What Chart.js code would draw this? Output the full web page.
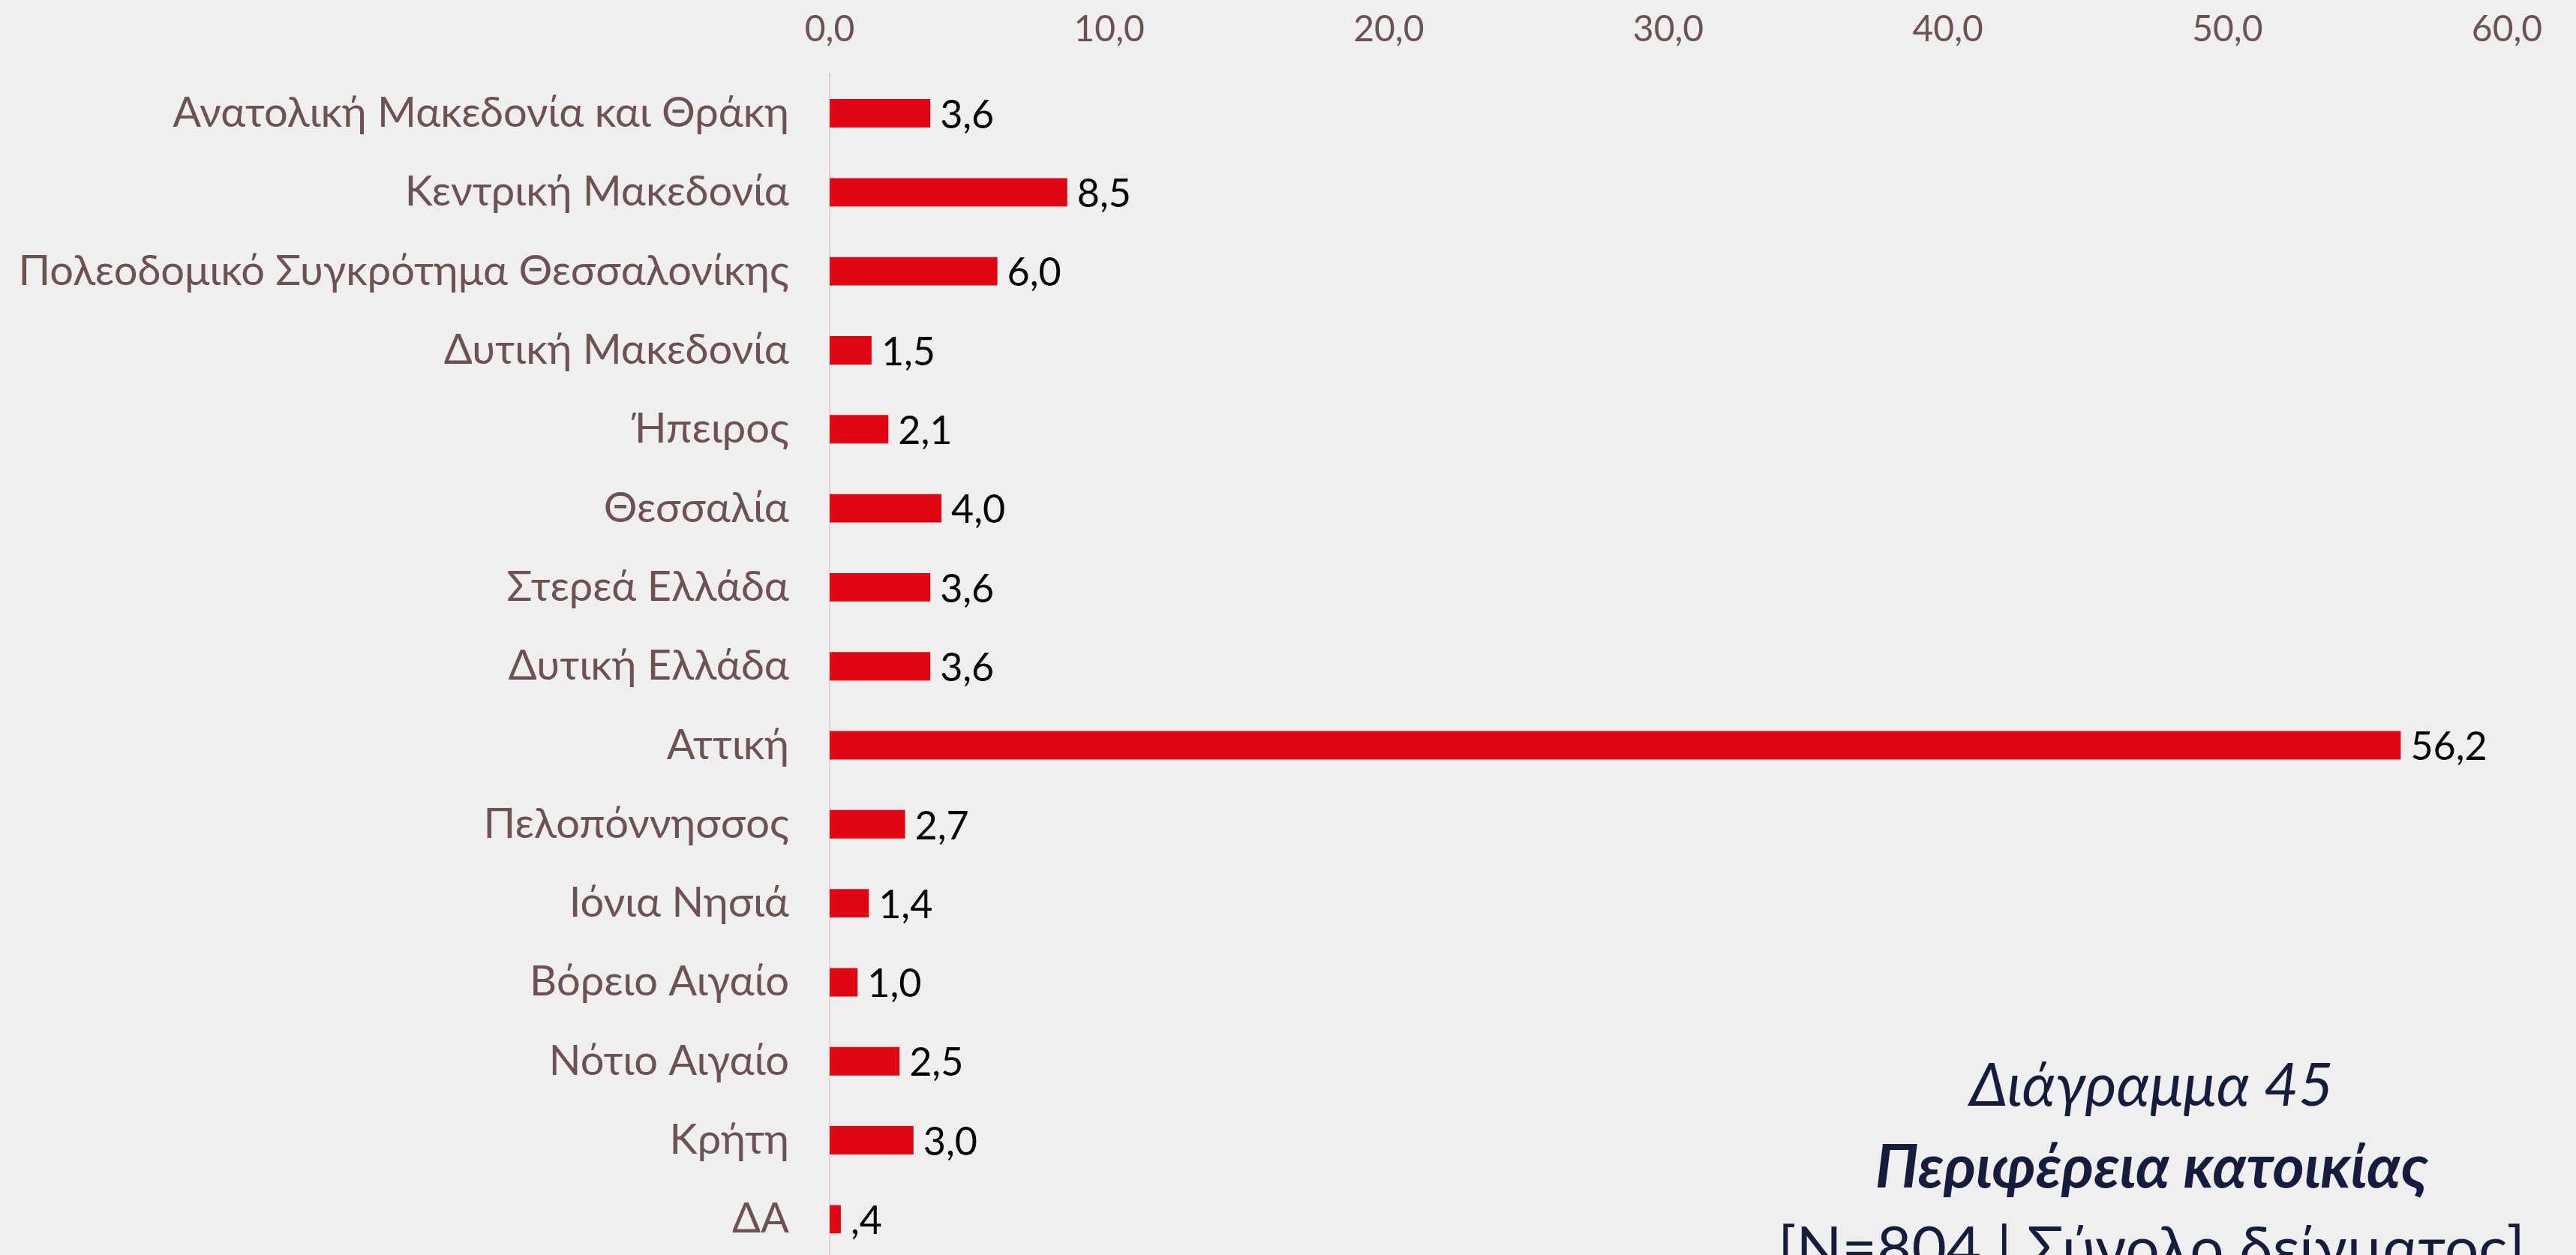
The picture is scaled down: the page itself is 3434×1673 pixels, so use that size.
<!DOCTYPE html>
<html>
<head>
<meta charset="utf-8">
<script src="https://cdn.jsdelivr.net/npm/chart.js@4/dist/chart.umd.min.js"></script>
<style>
  html, body { margin: 0; padding: 0; background: #EFEFEF; overflow: hidden; }
  #wrap { width: 3434px; height: 1690px; }
</style>
</head>
<body>
<div id="wrap"><canvas id="c" width="3434" height="1690"></canvas></div>
<script>
const categories = [
  "Ανατολική Μακεδονία και Θράκη",
  "Κεντρική Μακεδονία",
  "Πολεοδομικό Συγκρότημα Θεσσαλονίκης",
  "Δυτική Μακεδονία",
  "Ήπειρος",
  "Θεσσαλία",
  "Στερεά Ελλάδα",
  "Δυτική Ελλάδα",
  "Αττική",
  "Πελοπόννησσος",
  "Ιόνια Νησιά",
  "Βόρειο Αιγαίο",
  "Νότιο Αιγαίο",
  "Κρήτη",
  "ΔΑ"
];
const values = [3.6, 8.5, 6.0, 1.5, 2.1, 4.0, 3.6, 3.6, 56.2, 2.7, 1.4, 1.0, 2.5, 3.0, 0.4];
const xTicks = [0, 10, 20, 30, 40, 50, 60];
const titleLines = ["Διάγραμμα 45", "Περιφέρεια κατοικίας", "[N=804 | Σύνολο δείγματος]"];

const FONT = "Lato, 'Noto Sans', sans-serif";
function fmt(v) {
  const s = v.toFixed(1).replace('.', ',');
  return s.startsWith('0,') && v !== 0 && v < 1 ? s.slice(1) : s;
}

const dataLabels = {
  id: 'dataLabels',
  afterDatasetsDraw(chart) {
    const ctx = chart.ctx;
    const meta = chart.getDatasetMeta(0);
    ctx.save();
    ctx.font = "52px " + FONT;
    ctx.fillStyle = "#000000";
    ctx.textAlign = "left";
    ctx.textBaseline = "middle";
    meta.data.forEach((bar, i) => {
      ctx.fillText(fmt(values[i]), bar.x + 13, bar.y + 3);
    });
    ctx.restore();
  }
};

const titleBlock = {
  id: 'titleBlock',
  afterDraw(chart) {
    const ctx = chart.ctx;
    ctx.save();
    ctx.fillStyle = "#161C3E";
    ctx.textAlign = "center";
    ctx.textBaseline = "alphabetic";
    const cx = 2868;
    ctx.font = "italic 80px " + FONT;
    ctx.fillText(titleLines[0], cx, 1474);
    ctx.font = "italic bold 81px " + FONT;
    ctx.fillText(titleLines[1], cx, 1583);
    ctx.font = "80px " + FONT;
    ctx.fillText(titleLines[2], cx, 1692);
    ctx.restore();
  }
};

new Chart(document.getElementById('c'), {
  type: 'bar',
  data: {
    labels: categories,
    datasets: [{
      data: values,
      backgroundColor: "#E00613",
      borderWidth: 0,
      barPercentage: 0.36,
      categoryPercentage: 1.0
    }]
  },
  options: {
    indexAxis: 'y',
    responsive: false,
    animation: false,
    devicePixelRatio: 1,
    layout: { padding: { left: 0, right: 92, top: 0, bottom: 12 } },
    plugins: {
      legend: { display: false },
      tooltip: { enabled: false },
      title: { display: false }
    },
    scales: {
      x: {
        position: 'top',
        min: xTicks[0],
        max: xTicks[xTicks.length - 1],
        afterBuildTicks(scale) { scale.ticks = xTicks.map(v => ({ value: v })); },
        grid: { display: false, drawTicks: false },
        border: { display: false },
        ticks: {
          padding: 30,
          color: "#6E5253",
          font: { family: FONT, size: 48 },
          callback: v => v.toFixed(1).replace('.', ',')
        },
        afterFit(scale) { scale.height = 98.4; }
      },
      y: {
        grid: { display: false, drawTicks: false },
        border: { display: true, color: "#E2D2D2", width: 2 },
        ticks: {
          padding: 54,
          color: "#6E5253",
          font: { family: FONT, size: 56 }
        },
        afterFit(scale) {
          scale.width = 1106;
          scale.paddingTop = 0;
          scale.paddingBottom = 0;
        }
      }
    }
  },
  plugins: [dataLabels, titleBlock]
});
</script>
</body>
</html>
